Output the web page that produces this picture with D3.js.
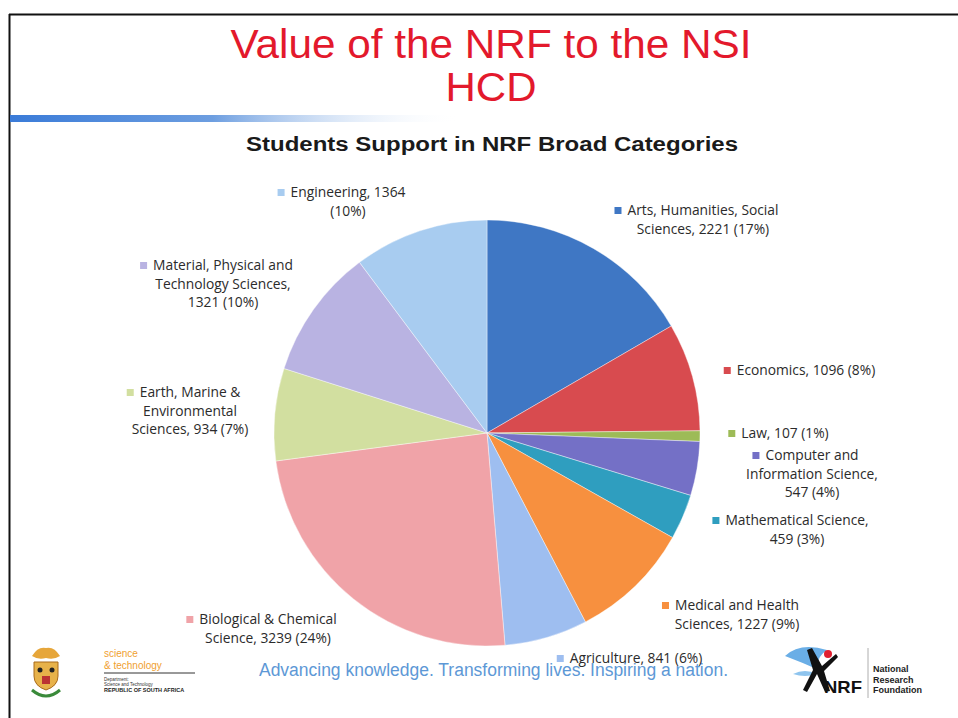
<!DOCTYPE html>
<html><head><meta charset="utf-8">
<script src="https://cdn.jsdelivr.net/npm/d3@7"></script>
<style>
html,body{margin:0;padding:0;background:#fff;}
svg{display:block;}
</style></head>
<body>
<svg id="c" width="958" height="718"></svg>
<script>
// ---- data ----
const categories = ["Arts, Humanities, Social Sciences","Economics","Law","Computer and Information Science","Mathematical Science","Medical and Health Sciences","Agriculture","Biological & Chemical Science","Earth, Marine & Environmental Sciences","Material, Physical and Technology Sciences","Engineering"];
const values = [2221,1096,107,547,459,1227,841,3239,934,1321,1364];
const percents = ["17%","8%","1%","4%","3%","9%","6%","24%","7%","10%","10%"];
const colors = ["#3f77c4","#d84b4f","#9dbb57","#7470c6","#2f9ebf","#f7903f","#9ebef0","#f0a3a8","#d2dfa0","#b9b3e2","#a8ccf0"];
const labelLines = [
  ["Arts, Humanities, Social","Sciences, 2221 (17%)"],
  ["Economics, 1096 (8%)"],
  ["Law, 107 (1%)"],
  ["Computer and","Information Science,","547 (4%)"],
  ["Mathematical Science,","459 (3%)"],
  ["Medical and Health","Sciences, 1227 (9%)"],
  ["Agriculture, 841 (6%)"],
  ["Biological & Chemical","Science, 3239 (24%)"],
  ["Earth, Marine &","Environmental","Sciences, 934 (7%)"],
  ["Material, Physical and","Technology Sciences,","1321 (10%)"],
  ["Engineering, 1364","(10%)"]
];
// ---- layout (label block centres, first line y) ----
const labelLayout = [
  {cx:703,y:215},{cx:806,y:375},{cx:785,y:438},{cx:812,y:460},{cx:797,y:525},
  {cx:737,y:610},{cx:636,y:663},{cx:268,y:624},{cx:190,y:397},{cx:223,y:270},{cx:348,y:197}
];

const svg = d3.select("#c");
const W = 958, H = 718;

// frame
svg.append("line").attr("x1",9).attr("x2",W).attr("y1",14.5).attr("y2",14.5).attr("stroke","#111").attr("stroke-width",2);
svg.append("line").attr("x1",9.5).attr("x2",9.5).attr("y1",14).attr("y2",H).attr("stroke","#111").attr("stroke-width",2);

// gradient bar
const defs = svg.append("defs");
const g = defs.append("linearGradient").attr("id","bar").attr("x1","0").attr("x2","1");
g.append("stop").attr("offset","0").attr("stop-color","#3a7bd8");
g.append("stop").attr("offset","0.45").attr("stop-color","#6d9ee0");
g.append("stop").attr("offset","1").attr("stop-color","#ffffff").attr("stop-opacity",0);
svg.append("rect").attr("x",10).attr("y",115).attr("width",450).attr("height",7).attr("fill","url(#bar)");

// titles
svg.append("text").attr("x",491).attr("y",58).attr("text-anchor","middle")
  .attr("font-family","Liberation Sans, Arial, sans-serif").attr("font-size",41).attr("fill","#e3192c")
  .attr("textLength",521).attr("lengthAdjust","spacingAndGlyphs").text("Value of the NRF to the NSI");
svg.append("text").attr("x",491).attr("y",101).attr("text-anchor","middle")
  .attr("font-family","Liberation Sans, Arial, sans-serif").attr("font-size",41).attr("fill","#e3192c")
  .attr("textLength",91).attr("lengthAdjust","spacingAndGlyphs").text("HCD");
svg.append("text").attr("x",492).attr("y",151).attr("text-anchor","middle")
  .attr("font-family","Liberation Sans, Arial, sans-serif").attr("font-size",20).attr("font-weight","bold").attr("fill","#1a1a1a")
  .attr("textLength",492).attr("lengthAdjust","spacingAndGlyphs").text("Students Support in NRF Broad Categories");

// pie
const cx = 487, cy = 433, R = 213;
const pie = d3.pie().sort(null).value(d => d);
const arc = d3.arc().innerRadius(0).outerRadius(R);
const arcs = pie(values);
svg.append("g").attr("transform",`translate(${cx},${cy})`)
  .selectAll("path").data(arcs).join("path")
  .attr("d",arc).attr("fill",(d,i)=>colors[i]).attr("stroke","#fff").attr("stroke-width",0.4);

// footer slogan (drawn before labels so Agriculture label overlaps)
svg.append("text").attr("x",259).attr("y",676)
  .attr("font-family","Liberation Sans, Arial, sans-serif").attr("font-size",18).attr("fill","#5d98d6")
  .attr("textLength",469).attr("lengthAdjust","spacingAndGlyphs")
  .text("Advancing knowledge. Transforming lives. Inspiring a nation.");

// labels
const lh = 18.5;
const lab = svg.append("g").attr("font-family","'Open Sans', Lato, sans-serif").attr("font-size",13.8).attr("fill","#2b2b2b");
labelLines.forEach((lines,i) => {
  const L = labelLayout[i];
  const t = lab.append("text").attr("text-anchor","middle");
  lines.forEach((s,k)=>{
    t.append("tspan").attr("x",L.cx).attr("y",L.y + k*lh).text(s);
  });
  const w0 = t.select("tspan").node().getComputedTextLength();
  lab.append("rect").attr("x",L.cx - w0/2 - 13).attr("y",L.y - 8).attr("width",7).attr("height",7).attr("fill",colors[i]);
});

// left logo (simplified coat of arms + text)
const ll = svg.append("g");
ll.append("path").attr("d","M32,656 q6,-10 14,-8 q8,-2 14,8 q-6,4 -14,2 q-8,2 -14,-2 z").attr("fill","#e6a63a");
ll.append("path").attr("d","M34,662 h24 v14 q0,10 -12,14 q-12,-4 -12,-14 z").attr("fill","#e7b24a").attr("stroke","#a86a1a").attr("stroke-width",1);
ll.append("circle").attr("cx",40).attr("cy",670).attr("r",2.5).attr("fill","#222");
ll.append("circle").attr("cx",52).attr("cy",670).attr("r",2.5).attr("fill","#222");
ll.append("path").attr("d","M42,676 h8 v8 h-8 z").attr("fill","#b33");
ll.append("path").attr("d","M32,690 q14,12 28,0").attr("fill","none").attr("stroke","#3a8a3a").attr("stroke-width",3);
ll.append("text").attr("x",104).attr("y",657).attr("font-family","Liberation Sans, Arial, sans-serif").attr("font-size",10).attr("fill","#f0a030").text("science");
ll.append("text").attr("x",104).attr("y",669).attr("font-family","Liberation Sans, Arial, sans-serif").attr("font-size",10).attr("fill","#f0a030").text("& technology");
ll.append("line").attr("x1",104).attr("x2",195).attr("y1",673).attr("y2",673).attr("stroke","#333").attr("stroke-width",1);
ll.append("text").attr("x",104).attr("y",681).attr("font-family","Liberation Sans, Arial, sans-serif").attr("font-size",4.5).attr("fill","#333").text("Department:");
ll.append("text").attr("x",104).attr("y",686).attr("font-family","Liberation Sans, Arial, sans-serif").attr("font-size",4.5).attr("fill","#333").text("Science and Technology");
ll.append("text").attr("x",104).attr("y",692).attr("font-family","Liberation Sans, Arial, sans-serif").attr("font-size",5.5).attr("font-weight","bold").attr("fill","#222").text("REPUBLIC OF SOUTH AFRICA");

// right logo (NRF)
const rl = svg.append("g");
rl.append("path").attr("d","M785,656 q15,-14 42,-6 q-12,8 -8,20 q-18,-8 -34,-14 z").attr("fill","#6aaee6");
rl.append("path").attr("d","M793,674 q12,-6 24,0 q-12,4 -24,0 z").attr("fill","#8ec4ee");
rl.append("path").attr("d","M812,648 l10,18 l14,-12 l2,3 l-14,14 l6,20 l-5,1 l-8,-18 l-10,18 l-4,-2 l10,-20 l-6,-20 z").attr("fill","#111");
rl.append("circle").attr("cx",828).attr("cy",654).attr("r",4).attr("fill","#e02030");
rl.append("text").attr("x",824).attr("y",693).attr("font-family","Liberation Sans, Arial, sans-serif").attr("font-size",17).attr("font-weight","bold").attr("fill","#111").attr("textLength",38).attr("lengthAdjust","spacingAndGlyphs").text("NRF");
rl.append("line").attr("x1",868).attr("x2",868).attr("y1",648).attr("y2",698).attr("stroke","#999").attr("stroke-width",0.8);
["National","Research","Foundation"].forEach((s,k)=>{
  rl.append("text").attr("x",873).attr("y",672+k*10.5).attr("font-family","Liberation Sans, Arial, sans-serif").attr("font-size",9).attr("font-weight","bold").attr("fill","#222").text(s);
});
</script>
</body></html>
